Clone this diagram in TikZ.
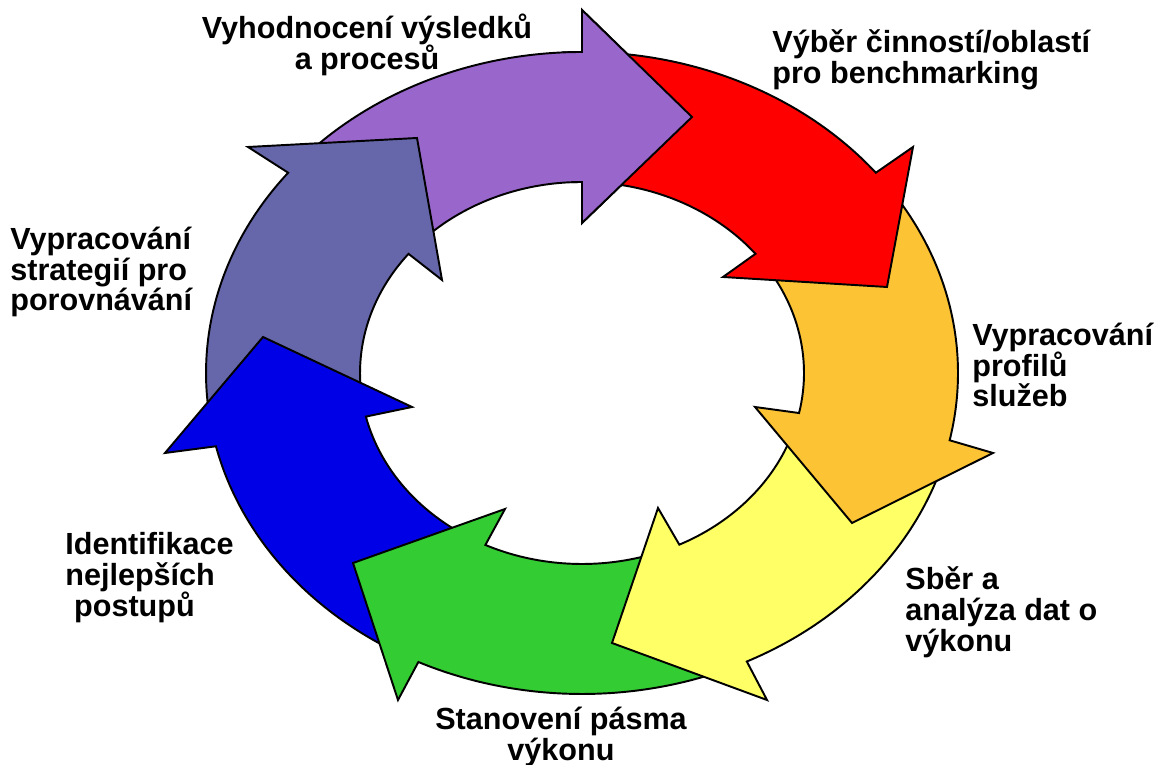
\documentclass[tikz,border=0pt]{standalone}
\usepackage{fontspec}
\setmainfont{Liberation Sans}
\usepackage{tikz}
\usetikzlibrary{calc}
\definecolor{evalpurple}{RGB}{153,102,204}
\definecolor{selred}{RGB}{255,0,0}
\definecolor{profgold}{RGB}{252,196,52}
\definecolor{datayellow}{RGB}{255,255,102}
\definecolor{bandgreen}{RGB}{51,204,51}
\definecolor{bestblue}{RGB}{0,0,230}
\definecolor{stratslate}{RGB}{102,102,170}

\begin{document}
\begin{tikzpicture}[x=0.2mm, y=0.2mm,
  seg/.style={draw=black, line width=1.1pt},
  lbl/.style={font=\bfseries\fontsize{17.4}{17.6}\selectfont, inner sep=0pt}]
  \useasboundingbox (0,0) rectangle (1158,765);
  \coordinate (c) at (582,392);
  \foreach \col/\ta/\tb/\ob/\tip/\ib in {
      evalpurple/141.4/90/{(582,755)}/{(692,648)}/{(582,542)},
      stratslate/193.2/141.4/{(248,618)}/{(417,627)}/{(442,485)},
      bestblue/244.2/193.2/{(165,312)}/{(263,428)}/{(412,358)},
      bandgreen/296/244.2/{(398,65)}/{(353,202)}/{(505,256)},
      datayellow/347.9/296/{(767,65)}/{(612,122)}/{(658,257)},
      profgold/398.6/347.9/{(993,312)}/{(852,242)}/{(755,358)},
      selred/450/398.6/{(913,618)}/{(887,478)}/{(723,488)}} {
    \filldraw[seg, fill=\col] ($(c)+(\ta:376 and 321)$)
      arc[start angle=\ta, end angle=\tb, x radius=376, y radius=321]
      -- \ob -- \tip -- \ib -- ($(c)+(\tb:222 and 191)$)
      arc[start angle=\tb, end angle=\ta, x radius=222, y radius=191] -- cycle;
  }
  \filldraw[seg, fill=evalpurple] ($(c)+(93:376 and 321)$)
    arc[start angle=93, end angle=90, x radius=376, y radius=321]
    -- (582,755) -- (692,648) -- (582,542) -- ($(c)+(90:222 and 191)$)
    arc[start angle=90, end angle=93, x radius=222, y radius=191];

  \node[lbl, align=center] (eval) at (367,720) {Vyhodnocení výsledků\\a procesů};
  \node[lbl, anchor=west, align=left] (select) at (772,705) {Výběr činností/oblastí\\pro benchmarking};
  \node[lbl, anchor=west, align=left] (profile) at (972,400) {Vypracování\\profilů\\služeb};
  \node[lbl, anchor=west, align=left] (collect) at (905,153) {Sběr a\\analýza dat o\\výkonu};
  \node[lbl, align=center] (band) at (561,28) {Stanovení pásma\\výkonu};
  \node[lbl, anchor=west, align=left] (best) at (65,187) {Identifikace\\nejlepších\\\hspace*{5pt}postupů};
  \node[lbl, anchor=west, align=left] (strat) at (10,493) {Vypracování\\strategií pro\\porovnávání};
\end{tikzpicture}
\end{document}
